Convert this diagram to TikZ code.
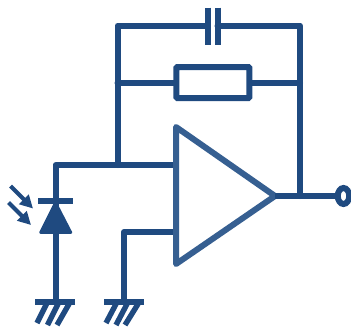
\documentclass[tikz,border=0pt]{standalone}
\usetikzlibrary{shapes.geometric,arrows.meta}
\definecolor{wire}{HTML}{1F4A80}
\definecolor{amp}{HTML}{365F91}
\tikzset{
  wirepath/.style={draw=wire,line width=6pt,line join=round,line cap=round},
  thinbar/.style={draw=wire,line width=6pt,line cap=butt},
  hatchline/.style={draw=wire,line width=5.4pt,line cap=butt},
  lightarrow/.style={draw=wire,line width=4pt,-{Triangle[length=13pt,width=13pt]}},
  ampbody/.style={draw=amp,line width=6pt,line join=round,fill=white},
  resistorbox/.style={draw=wire,line width=6pt,fill=white,rounded corners=1pt,rectangle,minimum width=73pt,minimum height=31pt,inner sep=0pt},
  terminal/.style={draw=wire,line width=6pt,fill=white,ellipse,minimum width=11.5pt,minimum height=16pt,inner sep=0pt},
  diodebody/.style={draw=wire,fill=wire,line width=2.5pt,line join=round}
}
\begin{document}
\begin{tikzpicture}[x=1pt,y=-1pt]
\useasboundingbox (0,0) rectangle (351,327);
% key points
\coordinate (tl) at (117.5,25.5);
\coordinate (tr) at (300,25.5);
\coordinate (capL) at (207.5,25.5);
\coordinate (capR) at (217.5,25.5);
\coordinate (rl) at (117.5,82.5);
\coordinate (rr) at (300,82.5);
\coordinate (inA) at (176,165);
\coordinate (fb) at (117.5,165);
\coordinate (corner) at (55.5,165);
\coordinate (inB) at (176,232);
\coordinate (cornerB) at (124,232);
\coordinate (gndA) at (55.5,302);
\coordinate (gndB) at (124,302);
\coordinate (out) at (275,196);
\coordinate (outT) at (300,196);
% wires
\path[wirepath] (capL) -- (tl) -- (rl) -- (fb);
\path[wirepath] (capR) -- (tr) -- (outT);
\node[resistorbox] (res) at (212.8,82.5) {};
\path[wirepath] (rl) -- (res.west);
\path[wirepath] (res.east) -- (rr);
\path[wirepath] (inA) -- (corner) -- (gndA);
\path[wirepath] (inB) -- (cornerB) -- (gndB);
% capacitor
\path[thinbar] (207.5,7.5) -- (207.5,44.5);
\path[thinbar] (217.5,7.5) -- (217.5,44.5);
% amplifier
\path[ampbody] (176,127) -- (275,196) -- (176,264) -- cycle;
\node[terminal] (term) at (343.5,196) {};
\path[wirepath,line cap=butt] (out) -- (term.west);
% diode
\path[thinbar] (38,200.5) -- (73,200.5);
\path[diodebody] (55.5,202.5) -- (71,232.5) -- (40.5,232.5) -- cycle;
\path[lightarrow] (10.5,186) -- (33,208.5);
\path[lightarrow] (8.5,202.5) -- (31,225);
% grounds
\path[thinbar] (35,302) -- (75,302);
\path[hatchline] (46.5,304) -- (37,323);
\path[hatchline] (58,304) -- (47.5,325);
\path[hatchline] (69,304) -- (57,325);
\path[thinbar] (104,302) -- (143.5,302);
\path[hatchline] (116,304) -- (106,323);
\path[hatchline] (127,304) -- (116,325);
\path[hatchline] (138,304) -- (125,325);
\end{tikzpicture}
\end{document}
